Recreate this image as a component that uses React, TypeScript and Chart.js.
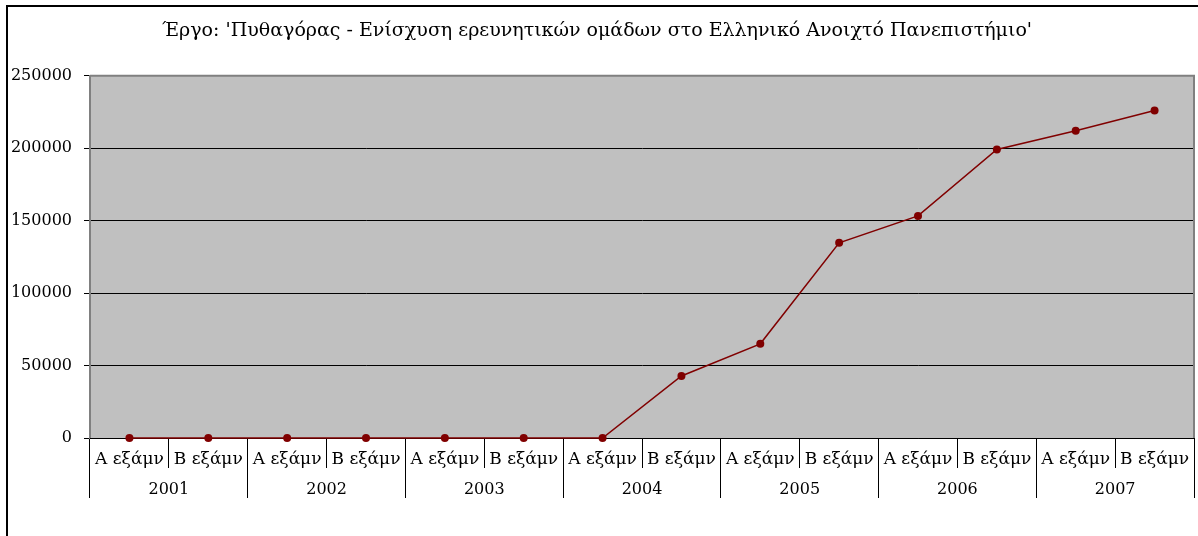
import React, { useEffect, useRef } from "react";
import { Chart, registerables } from "chart.js";

Chart.register(...registerables);

const TITLE = "Έργο: 'Πυθαγόρας - Ενίσχυση ερευνητικών ομάδων στο Ελληνικό Ανοιχτό Πανεπιστήμιο'";
const YEARS = ["2001", "2002", "2003", "2004", "2005", "2006", "2007"];
const SEMESTERS = [
  "Α εξάμν", "Β εξάμν", "Α εξάμν", "Β εξάμν", "Α εξάμν", "Β εξάμν", "Α εξάμν",
  "Β εξάμν", "Α εξάμν", "Β εξάμν", "Α εξάμν", "Β εξάμν", "Α εξάμν", "Β εξάμν",
];
const VALUES = [0, 0, 0, 0, 0, 0, 0, 42800, 65000, 134700, 153300, 199200, 212100, 226000];
const Y_MIN = 0;
const Y_MAX = 250000;
const Y_STEP = 50000;

const FONT = "'DejaVu Serif', serif";

const decorPlugin = {
  id: "decor",
  beforeDraw(chart: any) {
    const { ctx, chartArea } = chart;
    ctx.save();
    ctx.fillStyle = "#ffffff";
    ctx.fillRect(0, 0, chart.width, chart.height);
    ctx.strokeStyle = "#000000";
    ctx.lineWidth = 2;
    ctx.beginPath();
    ctx.moveTo(7, chart.height + 5);
    ctx.lineTo(7, 6);
    ctx.lineTo(chart.width + 5, 6);
    ctx.stroke();
    ctx.fillStyle = "#C0C0C0";
    ctx.fillRect(chartArea.left, chartArea.top, chartArea.right - chartArea.left, chartArea.bottom - chartArea.top);
    ctx.restore();
  },
  afterDatasetsDraw(chart: any) {
    const { ctx, chartArea } = chart;
    ctx.save();
    ctx.strokeStyle = "#808080";
    ctx.lineWidth = 2;
    ctx.beginPath();
    ctx.moveTo(chartArea.left, chartArea.top);
    ctx.lineTo(chartArea.right, chartArea.top);
    ctx.lineTo(chartArea.right, chartArea.bottom);
    ctx.stroke();
    ctx.restore();
  },
};

export default function App() {
  const ref = useRef<HTMLCanvasElement | null>(null);
  useEffect(() => {
    if (!ref.current) return;
    const chart = new Chart(ref.current, {
      type: "line",
      data: {
        labels: SEMESTERS,
        datasets: [
          {
            data: VALUES,
            borderColor: "#800000",
            backgroundColor: "#800000",
            borderWidth: 1.5,
            pointRadius: 4,
            pointBorderWidth: 0,
            pointBackgroundColor: "#800000",
            tension: 0,
            clip: false as any,
            xAxisID: "x",
            yAxisID: "y",
          },
        ],
      },
      options: {
        responsive: false,
        animation: false,
        layout: { padding: { left: 0, right: 4, top: 0, bottom: 38 } },
        plugins: {
          legend: { display: false },
          tooltip: { enabled: false },
          title: {
            display: true,
            text: TITLE,
            color: "#000000",
            font: { family: FONT, size: 19, weight: "normal" },
            padding: { top: 20, bottom: 33 },
          },
        },
        scales: {
          y: {
            min: Y_MIN,
            max: Y_MAX,
            afterFit: (s: any) => { s.width = 90; },
            ticks: {
              stepSize: Y_STEP,
              color: "#000000",
              font: { family: FONT, size: 16 },
              padding: 12,
              callback: (v: any) => String(v),
            },
            grid: {
              color: (c: any) => (c.tick && c.tick.value === Y_MAX ? "#808080" : "#000000"),
              lineWidth: 1,
              tickLength: 6,
              tickColor: "#000000",
              drawTicks: true,
            },
            border: { display: true, color: "#808080", width: 2 },
          },
          x: {
            type: "category",
            position: "bottom",
            offset: true,
            afterFit: (s: any) => { s.height = 30; },
            ticks: {
              color: "#000000",
              font: { family: FONT, size: 17 },
              padding: -19,
              maxRotation: 0,
              autoSkip: false,
            },
            grid: {
              offset: true,
              drawOnChartArea: false,
              tickLength: 30,
              color: "#000000",
              tickColor: "#000000",
            },
            border: { display: true, color: "#000000", width: 1 },
          },
          x2: {
            type: "category",
            position: "bottom",
            labels: YEARS,
            offset: true,
            afterFit: (s: any) => { s.height = 30; },
            ticks: {
              color: "#000000",
              font: { family: FONT, size: 16 },
              padding: -18,
              maxRotation: 0,
              autoSkip: false,
            },
            grid: {
              offset: true,
              drawOnChartArea: false,
              tickLength: 30,
              color: "#000000",
              tickColor: "#000000",
            },
            border: { display: false },
          },
        },
      } as any,
      plugins: [decorPlugin],
    });
    return () => chart.destroy();
  }, []);
  return (
    <div style={{ position: "fixed", left: 0, top: 0, width: 1198, height: 536, overflow: "hidden", background: "#fff" }}>
      <canvas ref={ref} width={1198} height={536} style={{ display: "block" }} />
    </div>
  );
}
